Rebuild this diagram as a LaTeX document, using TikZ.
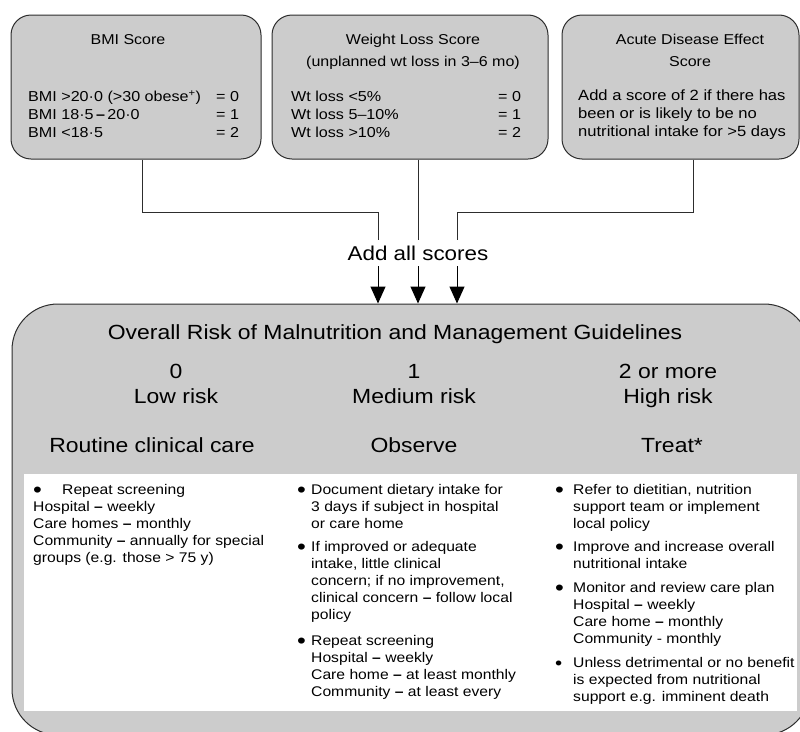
\documentclass[tikz,border=0pt]{standalone}
\usepackage{fontspec}
\usepackage{graphicx}
\setmainfont{Liberation Sans}[FakeStretch=1.12]
\usetikzlibrary{arrows.meta}
\definecolor{boxgray}{RGB}{204,204,204}
\definecolor{edgec}{RGB}{45,45,45}
\newcommand\ftop{\fontsize{14.4}{18}\selectfont}
\newcommand\ftitle{\fontsize{14.3}{22}\selectfont}
\newcommand\fthree{\fontsize{14.8}{18}\selectfont}
\newcommand\fbig{\fontsize{20.5}{25}\selectfont}
\newcommand\fwhite{\fontsize{14}{17}\selectfont}
\newcommand\mlines[1]{\begin{tabular}[t]{@{}l@{}}#1\end{tabular}}
\newcommand\mclines[1]{\begin{tabular}[t]{@{}c@{}}#1\end{tabular}}
\newcommand\bigbul{\raisebox{-2.4pt}{\scalebox{1.6}{\textbullet}}}
\newcommand\smallbul{\raisebox{-1.6pt}{\scalebox{1.3}{\textbullet}}}
\newcommand\bul[3][\bigbul]{\begin{tabular}[t]{@{}l@{}l@{}}\makebox[#2][l]{#1}&#3\end{tabular}}
\newcommand\dd{{\bfseries –}}
\tikzset{
  topbox/.style={draw=edgec, line width=1pt, fill=boxgray, rounded corners=20pt, inner sep=0pt},
  bigbox/.style={draw=edgec, line width=1pt, fill=boxgray, rounded corners=46pt, inner sep=0pt},
  whitebox/.style={fill=white, draw=none, inner sep=0pt},
  txt/.style={inner sep=0pt, anchor=base west},
  ctxt/.style={inner sep=0pt, anchor=base},
  conn/.style={draw=edgec, line width=1pt},
  arr/.style={draw=black, line width=1pt, -{Triangle[width=15pt,length=17pt]}},
}
\begin{document}
\begin{tikzpicture}[x=1pt,y=-1pt]
\useasboundingbox (0,0) rectangle (800,731);
% top boxes
\node[topbox, minimum width=250pt, minimum height=144pt] (b1) at (136,87) {};
\node[topbox, minimum width=276pt, minimum height=144pt] (b2) at (410,87) {};
\node[topbox, minimum width=237pt, minimum height=144pt] (b3) at (680.5,87) {};
% box 1 text
\node[ctxt] (t1) at (128,44.2) {\ftitle BMI Score};
\node[txt] (t1a) at (28,101.8) {\ftop\mlines{BMI >20·0 (>30 obese\textsuperscript{+})\\BMI 18·5\,\dd\,20·0\\BMI <18·5}};
\node[txt] (t1b) at (216,101.8) {\ftop\mlines{= 0\\= 1\\= 2}};
% box 2 text
\node[ctxt] (t2) at (413,44.2) {\ftitle\mclines{Weight Loss Score\\(unplanned wt loss in 3–6 mo)}};
\node[txt] (t2a) at (291,101.8) {\ftop\mlines{Wt loss <5\%\\Wt loss 5–10\%\\Wt loss >10\%}};
\node[txt] (t2b) at (498,101.8) {\ftop\mlines{= 0\\= 1\\= 2}};
% box 3 text
\node[ctxt] (t3) at (690,44.2) {\ftitle\mclines{Acute Disease Effect\\Score}};
\node[txt] (t3a) at (578,100.8) {\fthree\mlines{Add a score of 2 if there has\\been or is likely to be no\\nutritional intake for >5 days}};
% big box
\node[bigbox, minimum width=798pt, minimum height=431pt] (big) at (411,519.5) {};
\node[whitebox, minimum width=773pt, minimum height=237pt] (wb) at (410.5,592.5) {};
% Add all scores
\node[ctxt, minimum height=26pt, anchor=center] (add) at (418,253) {\fontsize{20}{24}\selectfont Add all scores};
% connectors
\coordinate (c1) at (142,212);
\coordinate (c3) at (693,212);
\coordinate (xl) at (378,0);
\coordinate (xm) at (418,0);
\coordinate (xr) at (457,0);
\draw[conn] (b1.south -| c1) -- (c1) -| (add.north -| xl);
\draw[conn] (b2.south -| xm) -- (add.north -| xm);
\draw[conn] (b3.south -| c3) -- (c3) -| (add.north -| xr);
\draw[arr] (add.south -| xl) -- (big.north -| xl);
\draw[arr] (add.south -| xm) -- (big.north -| xm);
\draw[arr] (add.south -| xr) -- (big.north -| xr);
% big box headings
\node[ctxt] (h0) at (395,339.3) {\fbig Overall Risk of Malnutrition and Management Guidelines};
\node[ctxt] (h1) at (176,378.3) {\fbig\mclines{0\\Low risk}};
\node[ctxt] (h2) at (414,378.3) {\fbig\mclines{1\\Medium risk}};
\node[ctxt] (h3) at (668,378.3) {\fbig\mclines{2 or more\\High risk}};
\node[ctxt] (g1) at (152,452.3) {\fbig Routine clinical care};
\node[ctxt] (g2) at (414,452.3) {\fbig Observe};
\node[ctxt] (g3) at (672,452.3) {\fbig Treat*};
% column 1
\node[txt] (w1) at (33,494.6) {\fwhite\mlines{\makebox[29pt][l]{\bigbul}Repeat screening\\Hospital \dd\ weekly\\Care homes \dd\ monthly\\Community \dd\ annually for special\\groups (e.g. those > 75 y)}};
% column 2
\node[txt] (w2a) at (297,494.6) {\fwhite\bul{14pt}{Document dietary intake for\\&3 days if subject in hospital\\&or care home}};
\node[txt] (w2b) at (297,551.6) {\fwhite\bul{14pt}{If improved or adequate\\&intake, little clinical\\&concern; if no improvement,\\&clinical concern \dd\ follow local\\&policy}};
\node[txt] (w2c) at (297,645.6) {\fwhite\bul{14pt}{Repeat screening\\&Hospital \dd\ weekly\\&Care home \dd\ at least monthly\\&Community \dd\ at least every}};
% column 3
\node[txt] (w3a) at (555,494.6) {\fwhite\bul{18pt}{Refer to dietitian, nutrition\\&support team or implement\\&local policy}};
\node[txt] (w3b) at (555,551.6) {\fwhite\bul{18pt}{Improve and increase overall\\&nutritional intake}};
\node[txt] (w3c) at (555,592.6) {\fwhite\bul{18pt}{Monitor and review care plan\\&Hospital \dd\ weekly\\&Care home \dd\ monthly\\&Community - monthly}};
\node[txt] (w3d) at (555,667.6) {\fwhite\bul[\smallbul]{18pt}{Unless detrimental or no benefit\\&is expected from nutritional\\&support e.g. imminent death}};
\end{tikzpicture}
\end{document}
